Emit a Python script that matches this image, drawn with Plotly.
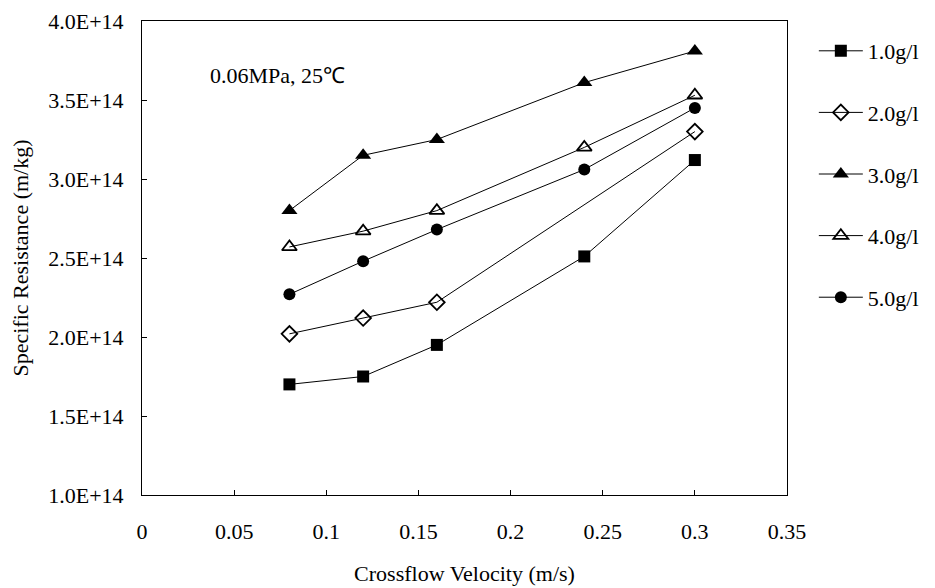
import plotly.graph_objects as go

velocity = [0.08, 0.12, 0.16, 0.24, 0.30]
velocity_2 = [0.08, 0.12, 0.16, 0.30]

r_1g = [1.70e14, 1.75e14, 1.95e14, 2.51e14, 3.12e14]
r_2g = [2.02e14, 2.12e14, 2.22e14, 3.30e14]
r_3g = [2.80e14, 3.15e14, 3.25e14, 3.61e14, 3.81e14]
r_4g = [2.57e14, 2.67e14, 2.80e14, 3.20e14, 3.53e14]
r_5g = [2.27e14, 2.48e14, 2.68e14, 3.06e14, 3.45e14]

names = ["1.0g/l", "2.0g/l", "3.0g/l", "4.0g/l", "5.0g/l"]
y_ticks = [1.0e14, 1.5e14, 2.0e14, 2.5e14, 3.0e14, 3.5e14, 4.0e14]
y_tick_text = ["1.0E+14", "1.5E+14", "2.0E+14", "2.5E+14", "3.0E+14", "3.5E+14", "4.0E+14"]
x_ticks = [0, 0.05, 0.1, 0.15, 0.2, 0.25, 0.3, 0.35]
x_tick_text = ["0", "0.05", "0.1", "0.15", "0.2", "0.25", "0.3", "0.35"]

FONT = "Liberation Serif, Times New Roman, serif"
FS = 22

series = [
    (velocity, r_1g, dict(symbol="square", size=12, color="black")),
    (velocity_2, r_2g, dict(symbol="diamond-open", size=12, color="black", line=dict(width=1.8, color="black"))),
    (velocity, r_3g, dict(symbol="triangle-up", size=14, color="black")),
    (velocity, r_4g, dict(symbol="triangle-up-open", size=13, color="black", line=dict(width=1.8, color="black"))),
    (velocity, r_5g, dict(symbol="circle", size=12, color="black")),
]

fig = go.Figure()
for i, ((xs, ys, mk), nm) in enumerate(zip(series, names)):
    fig.add_trace(go.Scatter(
        x=xs, y=ys, name=nm, mode="lines+markers",
        line=dict(color="black", width=1),
        marker=mk, legendgroup=f"g{i}",
    ))

fig.update_layout(
    width=927, height=580,
    margin=dict(l=134, r=147, t=13, b=93),
    paper_bgcolor="white", plot_bgcolor="white",
    font=dict(family=FONT, size=FS, color="black"),
    showlegend=True,
    legend=dict(
        x=1.04, xanchor="left", y=0.981, yanchor="top",
        font=dict(family=FONT, size=FS, color="black"),
        tracegroupgap=30, itemwidth=44, bgcolor="rgba(0,0,0,0)",
    ),
    xaxis=dict(
        range=[0, 0.35], tickvals=x_ticks, ticktext=x_tick_text,
        showgrid=False, zeroline=False, automargin=False,
        showline=True, linecolor="black", linewidth=1, mirror=True,
        ticks="inside", ticklen=5, tickcolor="black",
        ticklabelstandoff=17,
        title=dict(text="Crossflow Velocity (m/s)", font=dict(family=FONT, size=FS), standoff=22),
    ),
    yaxis=dict(
        range=[1e14, 4e14], tickvals=y_ticks, ticktext=y_tick_text,
        showgrid=False, zeroline=False, automargin=False,
        showline=True, linecolor="black", linewidth=1, mirror=True,
        ticks="inside", ticklen=5, tickcolor="black",
        ticklabelstandoff=13, ticklabeloverflow="allow",
        title=dict(text="Specific Resistance (m/kg)", font=dict(family=FONT, size=FS), standoff=14),
    ),
    annotations=[dict(
        text="0.06MPa, 25℃", x=0.102, y=0.885, xref="paper", yref="paper",
        xanchor="left", yanchor="middle", showarrow=False,
        font=dict(family=FONT, size=22, color="black"),
    )],
)

fig.write_html("out.html")
